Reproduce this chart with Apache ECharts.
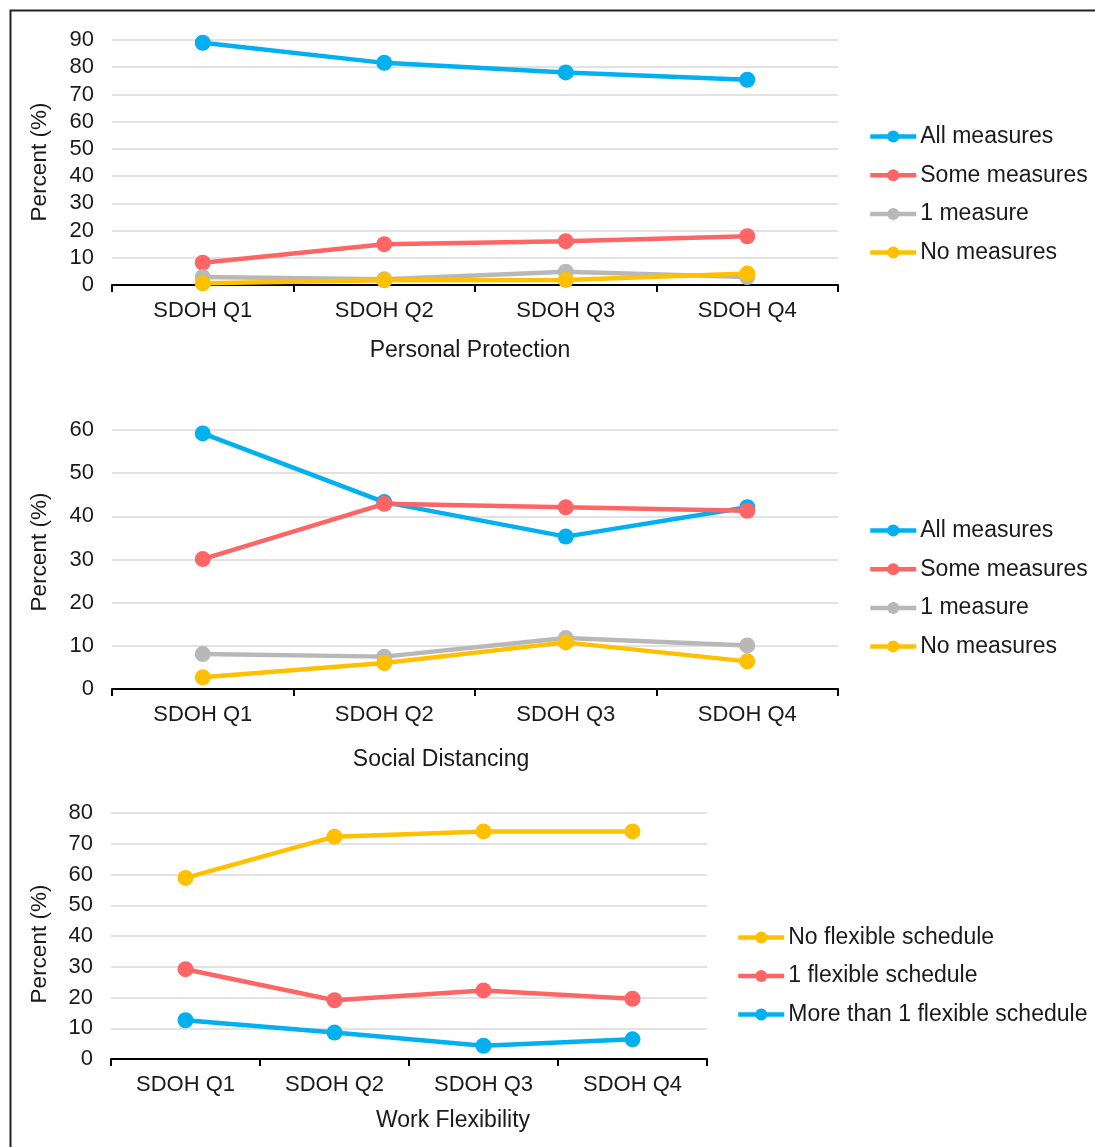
<!DOCTYPE html>
<html>
<head>
<meta charset="utf-8">
<script src="https://cdn.jsdelivr.net/npm/echarts@6/dist/echarts.min.js"></script>
<style>
html,body{margin:0;padding:0;background:#fff;}
#chart{width:1095px;height:1147px;}
</style>
</head>
<body>
<div id="chart"></div>
<script>
const categories = ['SDOH Q1', 'SDOH Q2', 'SDOH Q3', 'SDOH Q4'];

// Personal Protection
const ppAll = [89.0, 81.6, 78.1, 75.4];
const ppSome = [8.2, 15.0, 16.1, 17.9];
const ppOne = [2.9, 2.1, 4.9, 2.9];
const ppNone = [0.6, 1.7, 1.8, 4.2];

// Social Distancing
const sdAll = [59.2, 43.3, 35.3, 42.1];
const sdSome = [30.1, 42.9, 42.1, 41.3];
const sdOne = [8.1, 7.5, 11.8, 10.1];
const sdNone = [2.7, 6.0, 10.8, 6.4];

// Work Flexibility
const wfNone = [58.9, 72.3, 74.0, 74.0];
const wfOne = [29.2, 19.1, 22.3, 19.6];
const wfMore = [12.6, 8.6, 4.3, 6.4];

const panelTitles = ['Personal Protection', 'Social Distancing', 'Work Flexibility'];
const yName = 'Percent (%)';
const yMax = [90, 60, 80];
const yStep = 10;

const C_BLUE = '#00B0F0', C_RED = '#FF6565', C_GREY = '#B8B8B8', C_YEL = '#FFC000';
const FONT = 'Liberation Sans, Arial, sans-serif';
const TXT = '#1a1a1a';

const grids = [
  {left: 112, top: 40, width: 726, height: 245},
  {left: 112, top: 430, width: 726, height: 259},
  {left: 111, top: 813, width: 596, height: 246}
];

function xAx(i) {
  return {
    type: 'category', gridIndex: i, data: categories, boundaryGap: true,
    axisLine: {lineStyle: {color: '#000', width: 2}},
    axisTick: {show: true, length: 7, lineStyle: {color: '#000', width: 2}},
    axisLabel: {color: TXT, fontSize: 22, fontFamily: FONT, margin: 15}
  };
}
function yAx(i) {
  return {
    type: 'value', gridIndex: i, min: 0, max: yMax[i], interval: yStep,
    axisLine: {show: false}, axisTick: {show: false},
    axisLabel: {color: TXT, fontSize: 22, fontFamily: FONT, margin: 18},
    splitLine: {lineStyle: {color: '#d9d9d9', width: 1.5}}
  };
}
function ser(name, data, color, i) {
  return {
    name: name, type: 'line', data: data, xAxisIndex: i, yAxisIndex: i,
    symbol: 'circle', symbolSize: 16, showSymbol: true,
    lineStyle: {color: color, width: 4.5},
    itemStyle: {color: color},
    emphasis: {disabled: true}, animation: false
  };
}
function leg(names, left, top, gap) {
  return {
    orient: 'vertical', left: left, top: top, data: names, padding: 0,
    itemWidth: 46, itemHeight: 15, itemGap: gap,
    lineStyle: {width: 4.5},
    textStyle: {color: TXT, fontSize: 23, fontFamily: FONT, lineHeight: 23, padding: [0, 0, 0, -1]},
    selectedMode: false
  };
}
function txt(s, x, y, rot, size) {
  return {
    type: 'text', x: x, y: y, rotation: rot || 0,
    style: {text: s, fill: TXT, font: (size || 22) + 'px ' + FONT, align: 'center', verticalAlign: 'middle'}
  };
}

const option = {
  backgroundColor: '#fff',
  animation: false,
  grid: grids,
  xAxis: [xAx(0), xAx(1), xAx(2)],
  yAxis: [yAx(0), yAx(1), yAx(2)],
  legend: [
    leg(['All measures', 'Some measures', '1 measure', 'No measures'], 868, 125, 15.7),
    leg(['All measures', 'Some measures', '1 measure', 'No measures'], 868, 519, 15.7),
    leg(['No flexible schedule', '1 flexible schedule', 'More than 1 flexible schedule'], 736, 926, 15.5)
  ],
  series: [
    ser('All measures', ppAll, C_BLUE, 0),
    ser('Some measures', ppSome, C_RED, 0),
    ser('1 measure', ppOne, C_GREY, 0),
    ser('No measures', ppNone, C_YEL, 0),
    ser('All measures', sdAll, C_BLUE, 1),
    ser('Some measures', sdSome, C_RED, 1),
    ser('1 measure', sdOne, C_GREY, 1),
    ser('No measures', sdNone, C_YEL, 1),
    ser('No flexible schedule', wfNone, C_YEL, 2),
    ser('1 flexible schedule', wfOne, C_RED, 2),
    ser('More than 1 flexible schedule', wfMore, C_BLUE, 2)
  ],
  graphic: [
    {type: 'rect', shape: {x: 10.5, y: 10.5, width: 1200, height: 1200},
     style: {fill: 'none', stroke: '#222', lineWidth: 2}, silent: true},
    txt(panelTitles[0], 470, 351, 0, 23),
    txt(panelTitles[1], 441, 760, 0, 23),
    txt(panelTitles[2], 453, 1121, 0, 23),
    txt(yName, 40, 162, Math.PI / 2, 22.5),
    txt(yName, 40, 552, Math.PI / 2, 22.5),
    txt(yName, 40, 944, Math.PI / 2, 22.5)
  ]
};

const chart = echarts.init(document.getElementById('chart'), null, {renderer: 'canvas'});
chart.setOption(option);
</script>
</body>
</html>
